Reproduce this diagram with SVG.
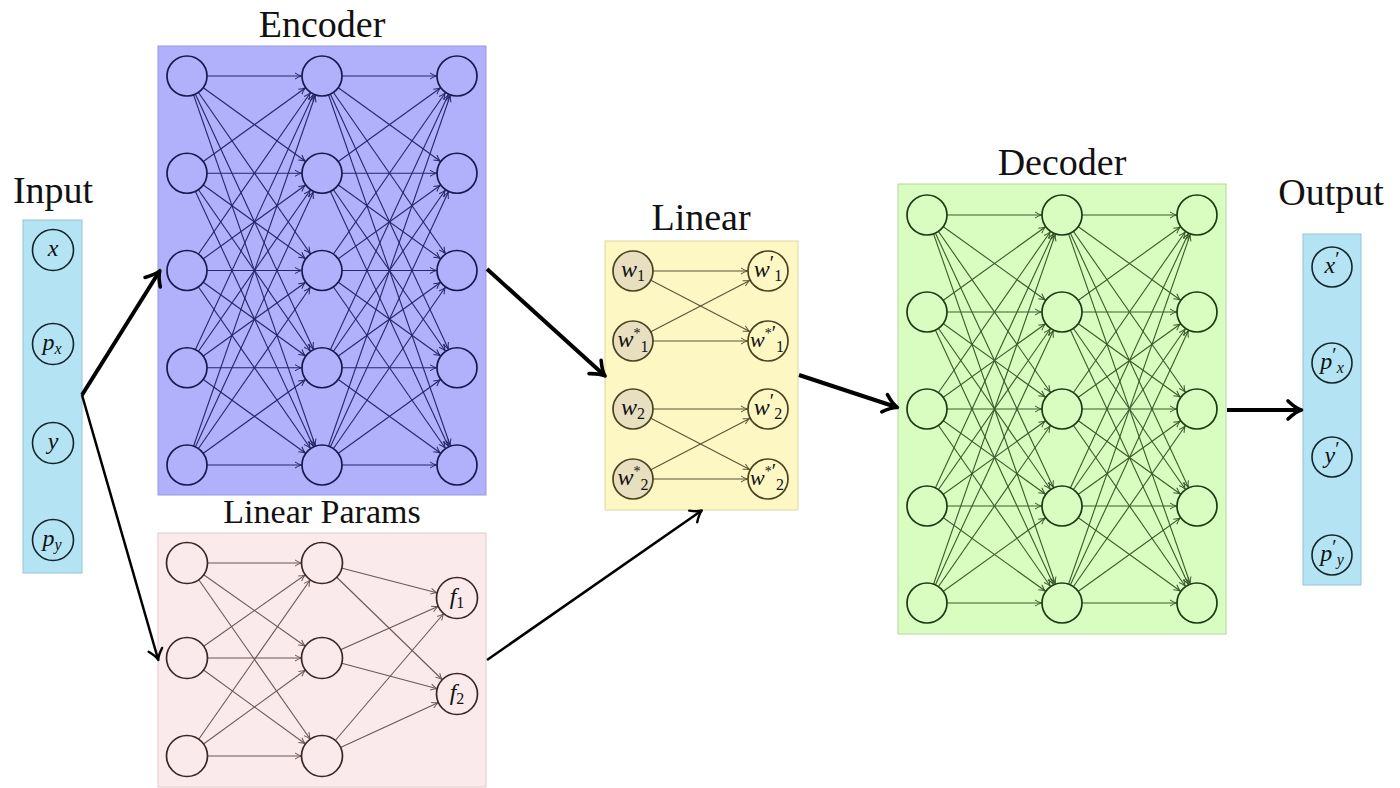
<svg xmlns="http://www.w3.org/2000/svg" width="1400" height="788" viewBox="0 0 1400 788">
<style>
.title{font-family:"Liberation Serif","Times New Roman",serif;font-size:38px;fill:#111;text-anchor:middle}
.m{font-family:"Liberation Serif","Times New Roman",serif;font-size:24px;font-style:italic;fill:#111;text-anchor:middle}
.sb{font-size:16px}
.st{font-size:14px;font-style:normal}
.pr{font-size:20px;font-style:normal}
.up{font-style:normal}
.enc line{stroke:#262668;stroke-width:1.1;marker-end:url(#mE)}
.dec line{stroke:#3a5a2a;stroke-width:1.1;marker-end:url(#mD)}
.par line{stroke:#6a5656;stroke-width:1.1;marker-end:url(#mP)}
.lin line{stroke:#5a5434;stroke-width:1.1;marker-end:url(#mL)}
.big{stroke:#000;fill:none;stroke-width:4;marker-end:url(#mB)}
.mid{stroke:#000;fill:none;stroke-width:2.5;marker-end:url(#mM)}
.nE{fill:#b0b0fb;stroke:#181850;stroke-width:1.7}
.nD{fill:#d9fcc1;stroke:#1e3a12;stroke-width:1.7}
.nP{fill:#fbeaeb;stroke:#3a2626;stroke-width:1.7}
.nL{fill:#e7dfbf;stroke:#4a4320;stroke-width:1.7}
.nL2{fill:#fdf7c4;stroke:#4a4320;stroke-width:1.7}
.nIO{fill:#b4e4f3;stroke:#14232c;stroke-width:1.6}
</style>
<defs>
<marker id="mE" markerUnits="userSpaceOnUse" viewBox="-30 -6 32 12" markerWidth="32" markerHeight="12" refX="0" refY="0" orient="auto" overflow="visible"><path d="M-27,-3 Q-23,-0.6 -20.6,0 Q-23,0.6 -27,3" fill="none" stroke="#262668" stroke-width="1"/></marker>
<marker id="mD" markerUnits="userSpaceOnUse" viewBox="-30 -6 32 12" markerWidth="32" markerHeight="12" refX="0" refY="0" orient="auto" overflow="visible"><path d="M-27,-3 Q-23,-0.6 -20.6,0 Q-23,0.6 -27,3" fill="none" stroke="#3a5a2a" stroke-width="1"/></marker>
<marker id="mP" markerUnits="userSpaceOnUse" viewBox="-30 -6 32 12" markerWidth="32" markerHeight="12" refX="0" refY="0" orient="auto" overflow="visible"><path d="M-27,-3 Q-23,-0.6 -20.6,0 Q-23,0.6 -27,3" fill="none" stroke="#6a5656" stroke-width="1"/></marker>
<marker id="mL" markerUnits="userSpaceOnUse" viewBox="-30 -6 32 12" markerWidth="32" markerHeight="12" refX="0" refY="0" orient="auto" overflow="visible"><path d="M-27,-3 Q-23,-0.6 -20.6,0 Q-23,0.6 -27,3" fill="none" stroke="#5a5434" stroke-width="1"/></marker>
<marker id="mB" markerUnits="userSpaceOnUse" viewBox="-14 -10 18 20" markerWidth="18" markerHeight="20" refX="0" refY="0" orient="auto" overflow="visible"><path d="M-12,-9 Q-4,-1.5 1.5,0 Q-4,1.5 -12,9" fill="none" stroke="#000" stroke-width="3.6" stroke-linecap="round" stroke-linejoin="round"/></marker>
<marker id="mM" markerUnits="userSpaceOnUse" viewBox="-14 -10 18 20" markerWidth="18" markerHeight="20" refX="0" refY="0" orient="auto" overflow="visible"><path d="M-9.5,-7 Q-3,-1 1,0 Q-3,1 -9.5,7" fill="none" stroke="#000" stroke-width="2.4" stroke-linecap="round" stroke-linejoin="round"/></marker>
</defs>
<rect width="1400" height="788" fill="#ffffff"/>

<g id="boxes">
<rect x="23" y="220" width="59" height="353" fill="#b4e4f3" stroke="#98c4d4" stroke-width="1"/>
<rect x="158" y="46" width="328" height="449" fill="#b0b0fb" stroke="#9a9ae0" stroke-width="1"/>
<rect x="158" y="533" width="328" height="254" fill="#fbeaeb" stroke="#e2cccc" stroke-width="1"/>
<rect x="605" y="241" width="193" height="269" fill="#fdf7c4" stroke="#dcd7a0" stroke-width="1"/>
<rect x="898" y="184" width="328" height="450" fill="#d9fcc1" stroke="#b4d89c" stroke-width="1"/>
<rect x="1303" y="234" width="58" height="351" fill="#b4e4f3" stroke="#98c4d4" stroke-width="1"/>
</g>

<g id="titles">
<text class="title" x="53" y="203">Input</text>
<text class="title" x="322" y="37">Encoder</text>
<text class="title" x="322" y="523" style="font-size:34px">Linear Params</text>
<text class="title" x="701" y="230">Linear</text>
<text class="title" x="1062" y="175">Decoder</text>
<text class="title" x="1331" y="205">Output</text>
</g>

<g id="connectors">
<g class="enc">
<line x1="187" y1="76" x2="322" y2="76"/><line x1="187" y1="76" x2="322" y2="173.25"/><line x1="187" y1="76" x2="322" y2="270.5"/><line x1="187" y1="76" x2="322" y2="367.75"/><line x1="187" y1="76" x2="322" y2="465"/>
<line x1="187" y1="173.25" x2="322" y2="76"/><line x1="187" y1="173.25" x2="322" y2="173.25"/><line x1="187" y1="173.25" x2="322" y2="270.5"/><line x1="187" y1="173.25" x2="322" y2="367.75"/><line x1="187" y1="173.25" x2="322" y2="465"/>
<line x1="187" y1="270.5" x2="322" y2="76"/><line x1="187" y1="270.5" x2="322" y2="173.25"/><line x1="187" y1="270.5" x2="322" y2="270.5"/><line x1="187" y1="270.5" x2="322" y2="367.75"/><line x1="187" y1="270.5" x2="322" y2="465"/>
<line x1="187" y1="367.75" x2="322" y2="76"/><line x1="187" y1="367.75" x2="322" y2="173.25"/><line x1="187" y1="367.75" x2="322" y2="270.5"/><line x1="187" y1="367.75" x2="322" y2="367.75"/><line x1="187" y1="367.75" x2="322" y2="465"/>
<line x1="187" y1="465" x2="322" y2="76"/><line x1="187" y1="465" x2="322" y2="173.25"/><line x1="187" y1="465" x2="322" y2="270.5"/><line x1="187" y1="465" x2="322" y2="367.75"/><line x1="187" y1="465" x2="322" y2="465"/>
<line x1="322" y1="76" x2="457" y2="76"/><line x1="322" y1="76" x2="457" y2="173.25"/><line x1="322" y1="76" x2="457" y2="270.5"/><line x1="322" y1="76" x2="457" y2="367.75"/><line x1="322" y1="76" x2="457" y2="465"/>
<line x1="322" y1="173.25" x2="457" y2="76"/><line x1="322" y1="173.25" x2="457" y2="173.25"/><line x1="322" y1="173.25" x2="457" y2="270.5"/><line x1="322" y1="173.25" x2="457" y2="367.75"/><line x1="322" y1="173.25" x2="457" y2="465"/>
<line x1="322" y1="270.5" x2="457" y2="76"/><line x1="322" y1="270.5" x2="457" y2="173.25"/><line x1="322" y1="270.5" x2="457" y2="270.5"/><line x1="322" y1="270.5" x2="457" y2="367.75"/><line x1="322" y1="270.5" x2="457" y2="465"/>
<line x1="322" y1="367.75" x2="457" y2="76"/><line x1="322" y1="367.75" x2="457" y2="173.25"/><line x1="322" y1="367.75" x2="457" y2="270.5"/><line x1="322" y1="367.75" x2="457" y2="367.75"/><line x1="322" y1="367.75" x2="457" y2="465"/>
<line x1="322" y1="465" x2="457" y2="76"/><line x1="322" y1="465" x2="457" y2="173.25"/><line x1="322" y1="465" x2="457" y2="270.5"/><line x1="322" y1="465" x2="457" y2="367.75"/><line x1="322" y1="465" x2="457" y2="465"/>
</g>
<g class="dec">
<line x1="927" y1="215" x2="1062" y2="215"/><line x1="927" y1="215" x2="1062" y2="312"/><line x1="927" y1="215" x2="1062" y2="409"/><line x1="927" y1="215" x2="1062" y2="506"/><line x1="927" y1="215" x2="1062" y2="603"/>
<line x1="927" y1="312" x2="1062" y2="215"/><line x1="927" y1="312" x2="1062" y2="312"/><line x1="927" y1="312" x2="1062" y2="409"/><line x1="927" y1="312" x2="1062" y2="506"/><line x1="927" y1="312" x2="1062" y2="603"/>
<line x1="927" y1="409" x2="1062" y2="215"/><line x1="927" y1="409" x2="1062" y2="312"/><line x1="927" y1="409" x2="1062" y2="409"/><line x1="927" y1="409" x2="1062" y2="506"/><line x1="927" y1="409" x2="1062" y2="603"/>
<line x1="927" y1="506" x2="1062" y2="215"/><line x1="927" y1="506" x2="1062" y2="312"/><line x1="927" y1="506" x2="1062" y2="409"/><line x1="927" y1="506" x2="1062" y2="506"/><line x1="927" y1="506" x2="1062" y2="603"/>
<line x1="927" y1="603" x2="1062" y2="215"/><line x1="927" y1="603" x2="1062" y2="312"/><line x1="927" y1="603" x2="1062" y2="409"/><line x1="927" y1="603" x2="1062" y2="506"/><line x1="927" y1="603" x2="1062" y2="603"/>
<line x1="1062" y1="215" x2="1197" y2="215"/><line x1="1062" y1="215" x2="1197" y2="312"/><line x1="1062" y1="215" x2="1197" y2="409"/><line x1="1062" y1="215" x2="1197" y2="506"/><line x1="1062" y1="215" x2="1197" y2="603"/>
<line x1="1062" y1="312" x2="1197" y2="215"/><line x1="1062" y1="312" x2="1197" y2="312"/><line x1="1062" y1="312" x2="1197" y2="409"/><line x1="1062" y1="312" x2="1197" y2="506"/><line x1="1062" y1="312" x2="1197" y2="603"/>
<line x1="1062" y1="409" x2="1197" y2="215"/><line x1="1062" y1="409" x2="1197" y2="312"/><line x1="1062" y1="409" x2="1197" y2="409"/><line x1="1062" y1="409" x2="1197" y2="506"/><line x1="1062" y1="409" x2="1197" y2="603"/>
<line x1="1062" y1="506" x2="1197" y2="215"/><line x1="1062" y1="506" x2="1197" y2="312"/><line x1="1062" y1="506" x2="1197" y2="409"/><line x1="1062" y1="506" x2="1197" y2="506"/><line x1="1062" y1="506" x2="1197" y2="603"/>
<line x1="1062" y1="603" x2="1197" y2="215"/><line x1="1062" y1="603" x2="1197" y2="312"/><line x1="1062" y1="603" x2="1197" y2="409"/><line x1="1062" y1="603" x2="1197" y2="506"/><line x1="1062" y1="603" x2="1197" y2="603"/>
</g>
<g class="par">
<line x1="187" y1="563" x2="322" y2="563"/><line x1="187" y1="563" x2="322" y2="658"/><line x1="187" y1="563" x2="322" y2="756"/>
<line x1="187" y1="658" x2="322" y2="563"/><line x1="187" y1="658" x2="322" y2="658"/><line x1="187" y1="658" x2="322" y2="756"/>
<line x1="187" y1="756" x2="322" y2="563"/><line x1="187" y1="756" x2="322" y2="658"/><line x1="187" y1="756" x2="322" y2="756"/>
<line x1="322" y1="563" x2="457" y2="598"/><line x1="322" y1="563" x2="457" y2="694"/>
<line x1="322" y1="658" x2="457" y2="598"/><line x1="322" y1="658" x2="457" y2="694"/>
<line x1="322" y1="756" x2="457" y2="598"/><line x1="322" y1="756" x2="457" y2="694"/>
</g>
<g class="lin">
<line x1="633" y1="271" x2="768" y2="271"/><line x1="633" y1="271" x2="768" y2="341"/>
<line x1="633" y1="341" x2="768" y2="271"/><line x1="633" y1="341" x2="768" y2="341"/>
<line x1="633" y1="409" x2="768" y2="409"/><line x1="633" y1="409" x2="768" y2="479"/>
<line x1="633" y1="479" x2="768" y2="409"/><line x1="633" y1="479" x2="768" y2="479"/>
</g>
<path class="big" d="M82,395 L159,272"/>
<path class="mid" d="M82,395 L158,659"/>
<path class="big" d="M487,269 L604,375"/>
<path class="mid" d="M487,660 L701,511"/>
<path class="big" d="M799,375 L896,407"/>
<path class="big" d="M1227,410 L1300,410"/>
</g>

<g id="input-nodes">
<g id="in-x"><circle class="nIO" cx="53" cy="250" r="20.5"/><text class="m" x="53" y="256">x</text></g>
<g id="in-px"><circle class="nIO" cx="53" cy="344" r="20.5"/><text class="m" x="52" y="350">p<tspan class="sb" dy="4">x</tspan></text></g>
<g id="in-y"><circle class="nIO" cx="53" cy="443" r="20.5"/><text class="m" x="53" y="449">y</text></g>
<g id="in-py"><circle class="nIO" cx="53" cy="540" r="20.5"/><text class="m" x="52" y="546">p<tspan class="sb" dy="4">y</tspan></text></g>
</g>

<g id="encoder-nodes">
<g id="e11"><circle class="nE" cx="187" cy="76" r="20"/></g>
<g id="e12"><circle class="nE" cx="187" cy="173.25" r="20"/></g>
<g id="e13"><circle class="nE" cx="187" cy="270.5" r="20"/></g>
<g id="e14"><circle class="nE" cx="187" cy="367.75" r="20"/></g>
<g id="e15"><circle class="nE" cx="187" cy="465" r="20"/></g>
<g id="e21"><circle class="nE" cx="322" cy="76" r="20"/></g>
<g id="e22"><circle class="nE" cx="322" cy="173.25" r="20"/></g>
<g id="e23"><circle class="nE" cx="322" cy="270.5" r="20"/></g>
<g id="e24"><circle class="nE" cx="322" cy="367.75" r="20"/></g>
<g id="e25"><circle class="nE" cx="322" cy="465" r="20"/></g>
<g id="e31"><circle class="nE" cx="457" cy="76" r="20"/></g>
<g id="e32"><circle class="nE" cx="457" cy="173.25" r="20"/></g>
<g id="e33"><circle class="nE" cx="457" cy="270.5" r="20"/></g>
<g id="e34"><circle class="nE" cx="457" cy="367.75" r="20"/></g>
<g id="e35"><circle class="nE" cx="457" cy="465" r="20"/></g>
</g>

<g id="params-nodes">
<g id="p11"><circle class="nP" cx="187" cy="563" r="20.5"/></g>
<g id="p12"><circle class="nP" cx="187" cy="658" r="20.5"/></g>
<g id="p13"><circle class="nP" cx="187" cy="756" r="20.5"/></g>
<g id="p21"><circle class="nP" cx="322" cy="563" r="20.5"/></g>
<g id="p22"><circle class="nP" cx="322" cy="658" r="20.5"/></g>
<g id="p23"><circle class="nP" cx="322" cy="756" r="20.5"/></g>
<g id="f1"><circle class="nP" cx="457" cy="598" r="20.5"/><text class="m" x="457" y="604">f<tspan class="sb up" dy="4">1</tspan></text></g>
<g id="f2"><circle class="nP" cx="457" cy="694" r="20.5"/><text class="m" x="457" y="700">f<tspan class="sb up" dy="4">2</tspan></text></g>
</g>

<g id="linear-nodes">
<g id="w1"><circle class="nL" cx="633" cy="271" r="20"/><text class="m" x="633" y="277">w<tspan class="sb up" dy="4">1</tspan></text></g>
<g id="w1s"><circle class="nL" cx="633" cy="341" r="20"/><text class="m" x="633" y="347">w<tspan class="st" dy="-9">*</tspan><tspan class="sb up" dy="14">1</tspan></text></g>
<g id="w2"><circle class="nL" cx="633" cy="409" r="20"/><text class="m" x="633" y="415">w<tspan class="sb up" dy="4">2</tspan></text></g>
<g id="w2s"><circle class="nL" cx="633" cy="479" r="20"/><text class="m" x="633" y="485">w<tspan class="st" dy="-9">*</tspan><tspan class="sb up" dy="14">2</tspan></text></g>
<g id="w1p"><circle class="nL2" cx="768" cy="271" r="20"/><text class="m" x="768" y="277">w<tspan class="pr" dy="-7">′</tspan><tspan class="sb up" dy="11">1</tspan></text></g>
<g id="w1sp"><circle class="nL2" cx="768" cy="341" r="20"/><text class="m" x="767" y="347" style="font-size:22px">w<tspan class="st" dy="-9">*</tspan><tspan class="pr" dy="2">′</tspan><tspan class="sb up" dy="12">1</tspan></text></g>
<g id="w2p"><circle class="nL2" cx="768" cy="409" r="20"/><text class="m" x="768" y="415">w<tspan class="pr" dy="-7">′</tspan><tspan class="sb up" dy="11">2</tspan></text></g>
<g id="w2sp"><circle class="nL2" cx="768" cy="479" r="20"/><text class="m" x="767" y="485" style="font-size:22px">w<tspan class="st" dy="-9">*</tspan><tspan class="pr" dy="2">′</tspan><tspan class="sb up" dy="12">2</tspan></text></g>
</g>

<g id="decoder-nodes">
<g id="d11"><circle class="nD" cx="927" cy="215" r="20"/></g>
<g id="d12"><circle class="nD" cx="927" cy="312" r="20"/></g>
<g id="d13"><circle class="nD" cx="927" cy="409" r="20"/></g>
<g id="d14"><circle class="nD" cx="927" cy="506" r="20"/></g>
<g id="d15"><circle class="nD" cx="927" cy="603" r="20"/></g>
<g id="d21"><circle class="nD" cx="1062" cy="215" r="20"/></g>
<g id="d22"><circle class="nD" cx="1062" cy="312" r="20"/></g>
<g id="d23"><circle class="nD" cx="1062" cy="409" r="20"/></g>
<g id="d24"><circle class="nD" cx="1062" cy="506" r="20"/></g>
<g id="d25"><circle class="nD" cx="1062" cy="603" r="20"/></g>
<g id="d31"><circle class="nD" cx="1197" cy="215" r="20"/></g>
<g id="d32"><circle class="nD" cx="1197" cy="312" r="20"/></g>
<g id="d33"><circle class="nD" cx="1197" cy="409" r="20"/></g>
<g id="d34"><circle class="nD" cx="1197" cy="506" r="20"/></g>
<g id="d35"><circle class="nD" cx="1197" cy="603" r="20"/></g>
</g>

<g id="output-nodes">
<g id="out-x"><circle class="nIO" cx="1332" cy="267" r="20"/><text class="m" x="1332" y="273">x<tspan class="pr" dy="-7">′</tspan></text></g>
<g id="out-px"><circle class="nIO" cx="1332" cy="363" r="20"/><text class="m" x="1332" y="369">p<tspan class="pr" dy="-7">′</tspan><tspan class="sb" dy="11">x</tspan></text></g>
<g id="out-y"><circle class="nIO" cx="1332" cy="457" r="20"/><text class="m" x="1332" y="463">y<tspan class="pr" dy="-7">′</tspan></text></g>
<g id="out-py"><circle class="nIO" cx="1332" cy="555" r="20"/><text class="m" x="1332" y="561">p<tspan class="pr" dy="-7">′</tspan><tspan class="sb" dy="11">y</tspan></text></g>
</g>
</svg>
